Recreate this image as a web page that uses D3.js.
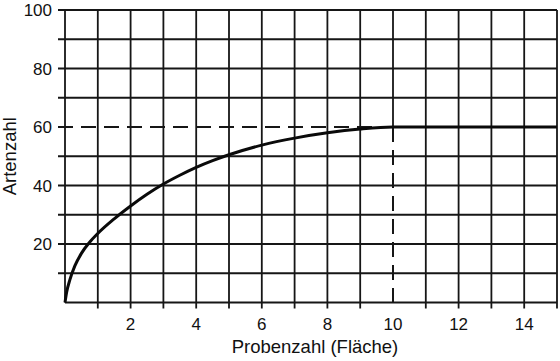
<!DOCTYPE html>
<html><head><meta charset="utf-8">
<script src="https://cdn.jsdelivr.net/npm/d3@7"></script>
<style>body{margin:0;background:#fff}svg{display:block}text{font-family:"Liberation Sans",Arial,Helvetica,sans-serif;fill:#111}</style>
</head><body>
<svg id="c" width="560" height="361"></svg>
<script>
const curveX = [0, 0.05, 0.15, 0.3, 0.5, 0.75, 1, 1.5, 2, 2.5, 3, 3.5, 4, 4.5, 5, 6, 7, 8, 9, 10, 11, 12, 13, 14, 15];
const curveY = [0, 3.5, 7.8, 12.5, 16.8, 20.6, 23.6, 28.6, 33, 37, 40.5, 43.5, 46.2, 48.5, 50.5, 53.8, 56.2, 58, 59.3, 60, 60, 60, 60, 60, 60];
const xTicks = [2, 4, 6, 8, 10, 12, 14];
const yTicks = [20, 40, 60, 80, 100];
const marker = {x: 10, y: 60};
const xTitle = "Probenzahl (Fläche)";
const yTitle = "Artenzahl";

const svg = d3.select("#c");
const m = {l: 65, r: 557, t: 10, b: 302.5};
const x = d3.scaleLinear().domain([0, 15]).range([m.l, m.r]);
const y = d3.scaleLinear().domain([0, 100]).range([m.b, m.t]);
const ink = "#161616";

// grid (the guide lines replace the grid segments they cover)
const g = svg.append("g");
g.selectAll("line.v").data(d3.range(0, 16)).join("line")
  .attr("x1", d => x(d)).attr("x2", d => x(d))
  .attr("y1", y(100))
  .attr("y2", d => d === 0 ? y(0) : (d === marker.x ? y(marker.y) : y(0) + 6))
  .attr("stroke", ink).attr("stroke-width", 1.8);
g.selectAll("line.h").data(d3.range(0, 101, 10)).join("line")
  .attr("y1", d => y(d)).attr("y2", d => y(d))
  .attr("x1", d => d === 0 ? x(0) : (d === marker.y ? x(marker.x) : x(0) - 7))
  .attr("x2", x(15))
  .attr("stroke", ink).attr("stroke-width", 1.8);

// tick labels
svg.append("g").selectAll("text").data(yTicks).join("text")
  .attr("x", 52).attr("y", d => y(d) + 6)
  .attr("text-anchor", "end").attr("font-size", 17).text(d => d);
svg.append("g").selectAll("text").data(xTicks).join("text")
  .attr("x", d => x(d)).attr("y", 330)
  .attr("text-anchor", "middle").attr("font-size", 17).text(d => d);

// titles
svg.append("text").attr("x", (m.l + m.r) / 2 + 4).attr("y", 353)
  .attr("text-anchor", "middle").attr("font-size", 18.5).text(xTitle);
svg.append("text").attr("transform", `translate(16,${(m.t + m.b) / 2}) rotate(-90)`)
  .attr("text-anchor", "middle").attr("font-size", 18.5).text(yTitle);

// dashed guides
svg.append("line").attr("x1", x(0) - 7).attr("x2", x(marker.x)).attr("y1", y(marker.y)).attr("y2", y(marker.y))
  .attr("stroke", ink).attr("stroke-width", 2).attr("stroke-dasharray", "15,8");
svg.append("line").attr("x1", x(marker.x)).attr("x2", x(marker.x)).attr("y1", y(marker.y)).attr("y2", y(0) + 6)
  .attr("stroke", ink).attr("stroke-width", 2).attr("stroke-dasharray", "15,8");

// curve
const pts = curveX.map((d, i) => [d, curveY[i]]);
svg.append("path").datum(pts)
  .attr("d", d3.line().x(d => x(d[0])).y(d => y(d[1])).curve(d3.curveMonotoneX))
  .attr("fill", "none").attr("stroke", "#0a0a0a").attr("stroke-width", 3);
</script>
</body></html>
